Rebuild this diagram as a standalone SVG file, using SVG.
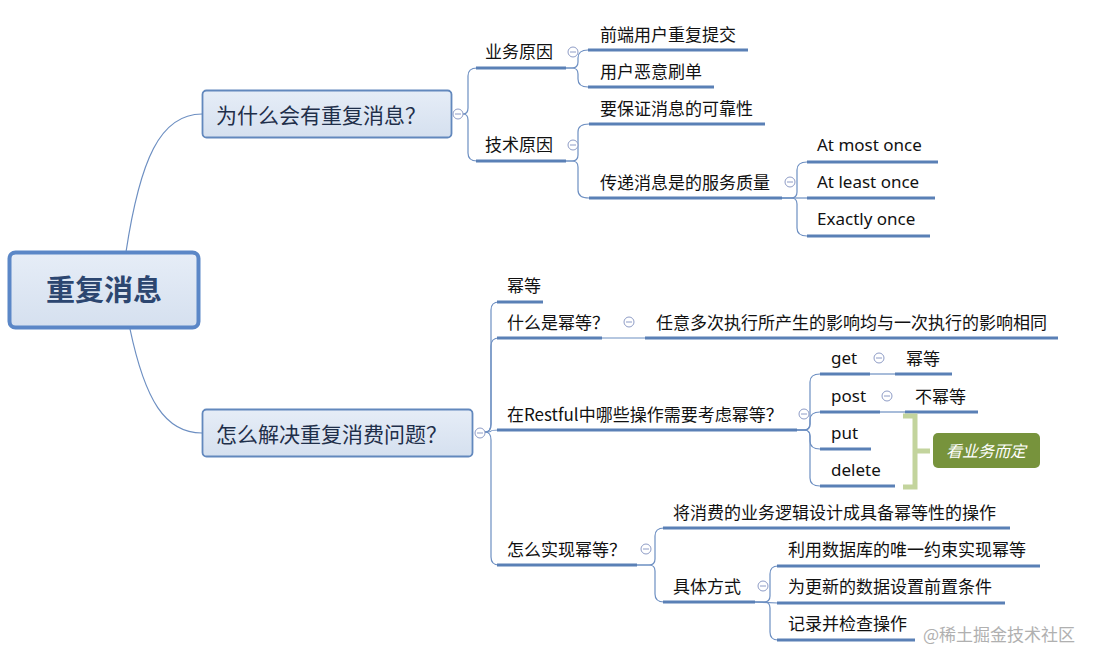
<svg xmlns="http://www.w3.org/2000/svg" width="1095" height="663" viewBox="0 0 1095 663">
<defs>
<linearGradient id="bg" x1="0" y1="0" x2="0" y2="1">
<stop offset="0" stop-color="#e6edf7"/>
<stop offset="1" stop-color="#d5e0ef"/>
</linearGradient>
<style>
.t{font-family:"Microsoft YaHei","Noto Sans CJK SC",sans-serif;font-size:17px;fill:#111}
.e{font-family:"Segoe UI","Noto Sans","Noto Sans CJK SC",sans-serif;font-size:17px;fill:#111}
.b{font-family:"Microsoft YaHei","Noto Sans CJK SC",sans-serif;font-size:21px;fill:#1f2f4a}
.ul{stroke:#5a80b6;stroke-width:3;fill:none}
.cn{stroke:#6d8fc2;stroke-width:1.2;fill:none}
.cc{fill:#fff;stroke:#8e9cc6;stroke-width:1}
.cm{stroke:#8e9cc6;stroke-width:1}
</style>
<g id="col"><circle class="cc" cx="0" cy="0" r="5"/><line class="cm" x1="-3" y1="0" x2="3" y2="0"/></g>
</defs>
<rect width="1095" height="663" fill="#fff"/>
<g id="connectors">
<path class="cn" d="M126 252 C140 160 160 114 202 114"/>
<path class="cn" d="M130 329 C145 400 165 433 202 433"/>
<!-- branch1 -->
<path class="cn" d="M463 114 Q468 114 468 108 L468 76 Q468 68 477 68"/>
<path class="cn" d="M463 114 Q468 114 468 120 L468 153 Q468 161 477 161"/>
<!-- 业务原因 -->
<path class="cn" d="M566 68 L572 68 Q578 68 578 62 L578 58 Q578 50 588 50"/>
<path class="cn" d="M566 68 L572 68 Q578 68 578 74 L578 79 Q578 87 588 87"/>
<!-- 技术原因 -->
<path class="cn" d="M566 161 L572 161 Q578 161 578 155 L578 132 Q578 124 589 124"/>
<path class="cn" d="M566 161 L572 161 Q578 161 578 167 L578 190 Q578 198 589 198"/>
<!-- 传递 -->
<path class="cn" d="M782 198 L807 198"/>
<path class="cn" d="M782 198 L791 198 Q797 198 797 192 L797 170 Q797 162 807 162"/>
<path class="cn" d="M782 198 L791 198 Q797 198 797 204 L797 228 Q797 236 807 236"/>
<!-- branch2 -->
<path class="cn" d="M485 432 Q491 432 491 424 L491 310 Q491 302 499 302"/>
<path class="cn" d="M485 432 Q491 432 491 424 L491 346 Q491 338 499 338"/>
<path class="cn" d="M485 432 Q491 432 491 431 Q491 430 499 430"/>
<path class="cn" d="M485 432 Q491 432 491 440 L491 557 Q491 565 499 565"/>
<!-- 什么是幂等 -->
<path class="cn" d="M602 338 L646 338"/>
<!-- Restful -->
<path class="cn" d="M797 430 L804 430 Q810 430 810 424 L810 382 Q810 374 820 374"/>
<path class="cn" d="M797 430 L804 430 Q810 430 810 424 L810 420 Q810 412 820 412"/>
<path class="cn" d="M797 430 L804 430 Q810 430 810 436 L810 441 Q810 449 820 449"/>
<path class="cn" d="M797 430 L804 430 Q810 430 810 436 L810 478 Q810 486 820 486"/>
<path class="cn" d="M870 374 L895 374"/>
<path class="cn" d="M880 412 L905 412"/>
<!-- 怎么实现幂等 -->
<path class="cn" d="M637 565 L649 565 Q655 565 655 559 L655 536 Q655 528 664 528"/>
<path class="cn" d="M637 565 L649 565 Q655 565 655 571 L655 594 Q655 602 664 602"/>
<!-- 具体方式 -->
<path class="cn" d="M755 602 L764 602 Q770 602 770 596 L770 574 Q770 566 778 566"/>
<path class="cn" d="M755 602 L778 603"/>
<path class="cn" d="M755 602 L764 602 Q770 602 770 608 L770 632 Q770 640 778 640"/>
</g>
<g id="root">
<rect x="9.5" y="252.5" width="189" height="75" rx="6" fill="url(#bg)" stroke="#5b87c7" stroke-width="4"/>
<text x="104" y="301" text-anchor="middle" font-family="'Microsoft YaHei','Noto Sans CJK SC',sans-serif" font-size="29" font-weight="bold" fill="#2c4670">重复消息</text>
</g>
<g id="n-why">
<rect x="202.5" y="90.5" width="249" height="47" rx="4" fill="url(#bg)" stroke="#6288bd" stroke-width="1.8"/>
<text class="b" x="216" y="123">为什么会有重复消息？</text>
<use href="#col" x="458" y="114"/>
</g>
<g id="n-how">
<rect x="202.5" y="409.5" width="270" height="47" rx="4" fill="url(#bg)" stroke="#6288bd" stroke-width="1.8"/>
<text class="b" x="216" y="442">怎么解决重复消费问题？</text>
<use href="#col" x="480" y="433"/>
</g>
<g id="n-biz"><text class="t" x="485" y="58">业务原因</text><line class="ul" x1="476" y1="68" x2="566" y2="68"/><use href="#col" x="573" y="52"/></g>
<g id="n-tech"><text class="t" x="485" y="151">技术原因</text><line class="ul" x1="476" y1="161" x2="566" y2="161"/><use href="#col" x="573" y="145"/></g>
<g id="n-front"><text class="t" x="600" y="41">前端用户重复提交</text><line class="ul" x1="588" y1="50" x2="748" y2="50"/></g>
<g id="n-evil"><text class="t" x="600" y="78">用户恶意刷单</text><line class="ul" x1="588" y1="87" x2="714" y2="87"/></g>
<g id="n-rel"><text class="t" x="600" y="115">要保证消息的可靠性</text><line class="ul" x1="589" y1="124" x2="765" y2="124"/></g>
<g id="n-qos"><text class="t" x="600" y="189">传递消息是的服务质量</text><line class="ul" x1="589" y1="198" x2="782" y2="198"/><use href="#col" x="790" y="182"/></g>
<g id="n-most"><text class="e" x="817" y="151">At most once</text><line class="ul" x1="807" y1="162" x2="938" y2="162"/></g>
<g id="n-least"><text class="e" x="817" y="188">At least once</text><line class="ul" x1="807" y1="198" x2="935" y2="198"/></g>
<g id="n-exact"><text class="e" x="817" y="225">Exactly once</text><line class="ul" x1="807" y1="236" x2="930" y2="236"/></g>
<g id="n-idem"><text class="t" x="507" y="292">幂等</text><line class="ul" x1="497" y1="302" x2="543" y2="302"/></g>
<g id="n-what"><text class="t" x="507" y="329">什么是幂等？</text><line class="ul" x1="497" y1="338" x2="602" y2="338"/><use href="#col" x="629" y="322"/></g>
<g id="n-def"><text class="t" x="656" y="329">任意多次执行所产生的影响均与一次执行的影响相同</text><line class="ul" x1="645" y1="338" x2="1058" y2="338"/></g>
<g id="n-rest"><text class="t" x="507" y="421">在Restful中哪些操作需要考虑幂等？</text><line class="ul" x1="497" y1="430" x2="797" y2="430"/><use href="#col" x="804" y="414"/></g>
<g id="n-get"><text class="e" x="831" y="364">get</text><line class="ul" x1="820" y1="374" x2="870" y2="374"/><use href="#col" x="879" y="358"/></g>
<g id="n-get-i"><text class="t" x="906" y="365">幂等</text><line class="ul" x1="895" y1="374" x2="952" y2="374"/></g>
<g id="n-post"><text class="e" x="831" y="402">post</text><line class="ul" x1="820" y1="412" x2="880" y2="412"/><use href="#col" x="887" y="396"/></g>
<g id="n-post-i"><text class="t" x="915" y="403">不幂等</text><line class="ul" x1="905" y1="412" x2="978" y2="412"/></g>
<g id="n-put"><text class="e" x="831" y="439">put</text><line class="ul" x1="820" y1="449" x2="871" y2="449"/></g>
<g id="n-delete"><text class="e" x="831" y="476">delete</text><line class="ul" x1="820" y1="486" x2="895" y2="486"/></g>
<g id="n-boundary">
<path d="M903 416 L915 416 L915 487 L903 487 M915 451 L930 451" fill="none" stroke="#c3d49d" stroke-width="5"/>
<rect x="933" y="433" width="107" height="35" rx="5" fill="#77933c"/>
<text x="986" y="457" text-anchor="middle" font-family="'Microsoft YaHei','Noto Sans CJK SC',sans-serif" font-size="16" font-style="italic" fill="#fff">看业务而定</text>
</g>
<g id="n-impl"><text class="t" x="507" y="556">怎么实现幂等？</text><line class="ul" x1="497" y1="565" x2="637" y2="565"/><use href="#col" x="646" y="549"/></g>
<g id="n-design"><text class="t" x="673" y="519">将消费的业务逻辑设计成具备幂等性的操作</text><line class="ul" x1="663" y1="528" x2="1010" y2="528"/></g>
<g id="n-ways"><text class="t" x="673" y="593">具体方式</text><line class="ul" x1="663" y1="602" x2="755" y2="602"/><use href="#col" x="763" y="586"/></g>
<g id="n-uniq"><text class="t" x="788" y="556">利用数据库的唯一约束实现幂等</text><line class="ul" x1="777" y1="566" x2="1040" y2="566"/></g>
<g id="n-pre"><text class="t" x="788" y="593">为更新的数据设置前置条件</text><line class="ul" x1="777" y1="603" x2="1005" y2="603"/></g>
<g id="n-log"><text class="t" x="788" y="630">记录并检查操作</text><line class="ul" x1="777" y1="640" x2="915" y2="640"/></g>
<text x="1075" y="641" text-anchor="end" font-family="'Microsoft YaHei','Noto Sans CJK SC',sans-serif" font-size="17" fill="#a8a8a8" opacity="0.9">@稀土掘金技术社区</text>
</svg>
